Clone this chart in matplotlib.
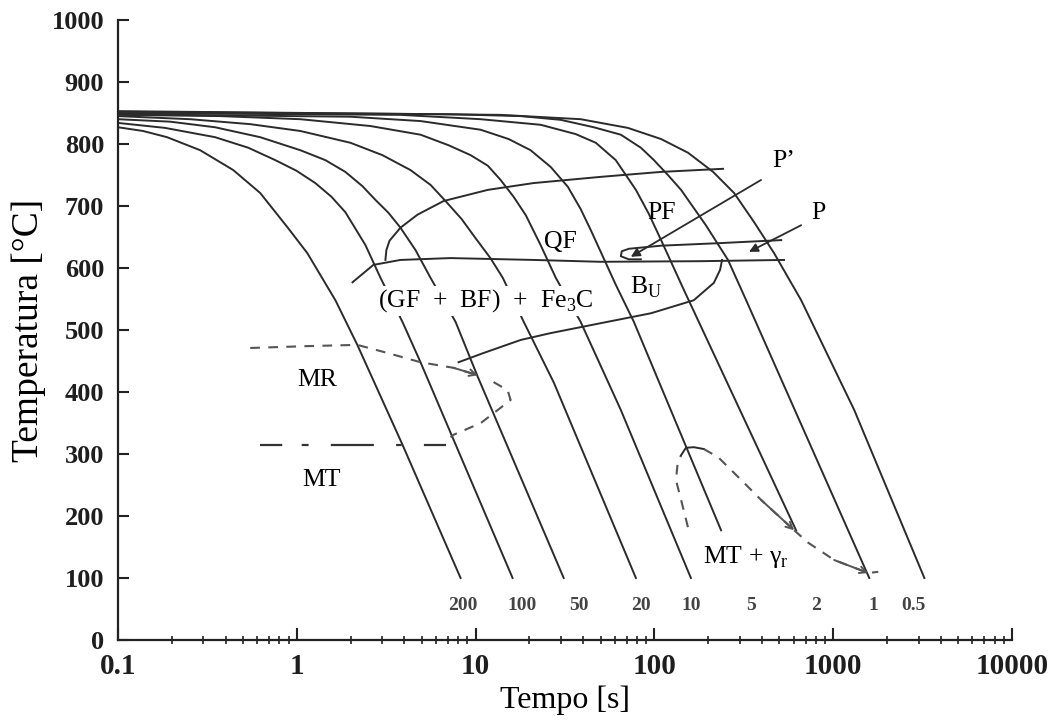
import matplotlib.pyplot as plt
from matplotlib.ticker import FixedLocator, LogLocator, NullFormatter

plt.rcParams['font.family'] = ['Liberation Serif', 'DejaVu Serif']
plt.rcParams['mathtext.fontset'] = 'custom'
plt.rcParams['mathtext.rm'] = 'Liberation Serif'
plt.rcParams['lines.scale_dashes'] = False

# cooling curves (time [s], temperature [C]), labelled by cooling rate
rates = ['200', '100', '50', '20', '10', '5', '2', '1', '0.5']
t200 = [0.1, 0.138, 0.188, 0.288, 0.441, 0.624, 0.885, 1.145, 1.644, 2.18, 3.90, 8.24]
T200 = [827, 821, 811, 790, 758, 721, 666, 624, 548, 476, 315, 100]
t100 = [0.1, 0.183, 0.349, 0.535, 0.758, 0.994, 1.269, 1.561, 1.869, 2.42, 2.94,
        3.90, 4.92, 7.53, 16.1]
T100 = [834, 826, 811, 794, 774, 757, 737, 715, 690, 637, 584, 513, 448, 323, 100]
t50 = [0.1, 0.196, 0.349, 0.624, 1.046, 1.444, 1.869, 2.328, 2.75, 3.256, 3.80, 4.61,
       5.60, 7.73, 10.3, 31.1]
T50 = [840, 836, 827, 811, 790, 774, 755, 732, 710, 689, 665, 629, 584, 513, 424, 100]
t20 = [0.1, 0.253, 0.549, 1.046, 1.994, 3.013, 4.32, 5.60, 6.79, 8.35, 10.0, 12.1,
       14.2, 18.6, 27.4, 78.8]
T20 = [845, 840, 832, 821, 802, 782, 758, 734, 708, 679, 648, 616, 584, 513, 415, 100]
t10 = [0.1, 0.373, 1.046, 2.58, 4.92, 7.06, 9.38, 11.7, 13.8, 16.3, 19.1, 23.1, 28.1,
       38.7, 64.9, 160]
T10 = [847, 845, 840, 829, 815, 798, 782, 765, 742, 715, 685, 637, 584, 513, 371, 100]
t5 = [0.1, 1.994, 4.92, 10.67, 15.3, 20.3, 26.3, 32.8, 38.7, 44.1, 60.8, 76.8, 236]
T5 = [848, 844, 837, 823, 808, 790, 763, 731, 695, 661, 573, 513, 177]
t2 = [0.1, 3.80, 10.67, 23.1, 36.3, 47.0, 60.8, 78.8, 93.2, 109, 146, 620]
T2 = [850, 847, 840, 831, 816, 802, 774, 726, 687, 645, 565, 177]
t1 = [0.1, 7.24, 17.9, 29.9, 45.8, 64.9, 84.0, 99.4, 119, 141, 194, 258, 326, 1591]
T1 = [852, 848, 845, 839, 827, 815, 794, 774, 750, 726, 669, 613, 548, 100]
t05 = [0.1, 13.8, 38.7, 71.0, 109, 154, 213, 279, 361, 467, 662, 1311, 3235]
T05 = [853, 847, 840, 826, 808, 786, 755, 721, 674, 624, 548, 371, 100]
rate_t = [8.5, 18.3, 37.8, 84, 160, 347, 804, 1675, 2805]
rate_T = 56

# transformation boundaries
fs_t = [3.13, 3.17, 3.30, 3.80, 4.73, 6.62, 11.7, 21.1, 50.1, 109, 242]
fs_T = [613, 629, 644, 665, 686, 708, 726, 737, 747, 755, 760]
bs_t = [2.05, 2.68, 3.80, 7.24, 21.1, 50.1, 182, 531]
bs_T = [577, 605, 613, 616, 613, 610, 611, 613]
bu_t = [8.03, 11.1, 17.9, 26.3, 50.1, 95.6, 166, 215, 233, 239]
bu_T = [448, 463, 484, 495, 511, 527, 548, 576, 597, 613]
p_t = [84, 71.9, 64.9, 65.7, 71.9, 109, 227, 512]
p_T = [614, 614, 619, 627, 631, 636, 640, 645]

# martensite lines
mr_t = [0.549, 1.145, 2.18, 3.21, 4.92, 7.53, 10.3]
mr_T = [471, 474, 476, 463, 448, 439, 427]
mr2_t = [12.6, 15.1, 15.7, 13.3, 10.7, 7.53, 7.24]
mr2_T = [416, 403, 387, 371, 350, 331, 327]
mt_t = [0.624, 6.79]
mt_T = [314, 314]
nl_t = [154, 141, 132, 135, 141]
nl_T = [182, 226, 258, 286, 298]
nc_t = [141, 150, 166, 189]
nc_T = [298, 310, 311, 308]
nr_t = [189, 227, 294, 395, 605]
nr_T = [308, 295, 263, 226, 177]
ntail_t = [605, 724, 1013, 1571, 1787]
ntail_T = [177, 157, 129, 108, 110]

xticks = [0.1, 1, 10, 100, 1000, 10000]
xticklabels = ['0.1', '1', '10', '100', '1000', '10000']
yticks = list(range(0, 1001, 100))

lc = '#2b2b2b'
dc = '#555555'

fig = plt.figure(figsize=(10.55, 7.2), dpi=100)
ax = fig.add_axes([118/1055, 80/720, 894/1055, 620/720])
ax.set_xscale('log')
ax.set_xlim(0.1, 10000)
ax.set_ylim(0, 1000)

curves = [(t200, T200), (t100, T100), (t50, T50), (t20, T20), (t10, T10),
          (t5, T5), (t2, T2), (t1, T1), (t05, T05)]
for (tt, TT), r, xt in zip(curves, rates, rate_t):
    ax.plot(tt, TT, color=lc, lw=1.4, solid_joinstyle='round')
    ax.text(xt, rate_T, r, ha='center', va='center', fontsize=14,
            fontweight='bold', color='#444444')

for tt, TT in [(fs_t, fs_T), (bs_t, bs_T), (bu_t, bu_T), (p_t, p_T)]:
    ax.plot(tt, TT, color=lc, lw=1.4, solid_joinstyle='round')

dash = (0, (7, 6))
ax.plot(mr_t, mr_T, color=dc, lw=1.5, ls=dash)
ax.plot(mr2_t, mr2_T, color=dc, lw=1.5, ls=dash)
ax.plot(mt_t, mt_T, color='#333333', lw=1.6, ls=(0, (16, 14, 5, 16, 31, 16, 4, 16)))
ax.plot(nl_t, nl_T, color=dc, lw=1.5, ls=dash)
ax.plot(nc_t, nc_T, color=lc, lw=1.4)
ax.plot(nr_t, nr_T, color=dc, lw=1.5, ls=dash)
ax.plot(ntail_t, ntail_T, color=dc, lw=1.5, ls=dash)

arr = dict(arrowstyle='->', color=dc, lw=1.4, shrinkA=0, shrinkB=0, mutation_scale=12)
ax.annotate('', xy=(mr_t[-1], mr_T[-1]), xytext=(mr_t[-2], mr_T[-2]), arrowprops=arr)
ax.annotate('', xy=(nr_t[-1], nr_T[-1]), xytext=(nr_t[-2], nr_T[-2]), arrowprops=arr)
ax.annotate('', xy=(ntail_t[3], ntail_T[3]), xytext=(ntail_t[2], ntail_T[2]), arrowprops=arr)

farr = dict(arrowstyle='-|>', color=lc, lw=1.3, shrinkA=0, shrinkB=0, mutation_scale=13)
ax.annotate('', xy=(73.8, 618), xytext=(395, 742), arrowprops=farr)
ax.annotate('', xy=(338, 626), xytext=(662, 669), arrowprops=farr)

fs = 18.5
ax.text(11.4, 547, '(GF  +  BF)  +  Fe$_\\mathregular{3}$C', fontsize=fs, ha='center',
        va='center', zorder=5, bbox=dict(fc='white', ec='none', pad=1))
ax.text(29.9, 642, 'QF', fontsize=fs, ha='center', va='center')
ax.text(110, 689, 'PF', fontsize=fs, ha='center', va='center')
ax.text(531, 773, 'P\u2019', fontsize=fs, ha='center', va='center')
ax.text(824, 689, 'P', fontsize=fs, ha='center', va='center')
ax.text(89.6, 569, 'B$_\\mathregular{U}$', fontsize=fs, ha='center', va='center')
ax.text(1.30, 419, 'MR', fontsize=fs, ha='center', va='center')
ax.text(1.37, 258, 'MT', fontsize=fs, ha='center', va='center')
ax.text(325, 134, 'MT + \u03b3$_\\mathregular{r}$', fontsize=fs, ha='center', va='center')

for s in ['top', 'right']:
    ax.spines[s].set_visible(False)
for s in ['left', 'bottom']:
    ax.spines[s].set_linewidth(1.6)
    ax.spines[s].set_color('#222222')

ax.xaxis.set_major_locator(FixedLocator(xticks))
ax.set_xticklabels(xticklabels)
ax.xaxis.set_minor_locator(LogLocator(base=10, subs=range(2, 10)))
ax.xaxis.set_minor_formatter(NullFormatter())
ax.set_yticks(yticks)
ax.tick_params(axis='x', which='major', direction='in', length=9, width=1.5,
               color='#222222', labelsize=21, pad=9)
ax.tick_params(axis='x', which='minor', direction='inout', length=6, width=1.2,
               color='#222222')
ax.tick_params(axis='y', direction='in', length=8, width=1.5, color='#222222',
               labelsize=19, pad=10)
for lab in ax.get_xticklabels() + ax.get_yticklabels():
    lab.set_fontweight('bold')
    lab.set_color('#1e1e1e')

ax.set_xlabel('Tempo [s]', fontsize=23, labelpad=4)
ax.set_ylabel('Temperatura [\u00b0C]', fontsize=27, labelpad=4)

fig.savefig('out.png', dpi=100)
